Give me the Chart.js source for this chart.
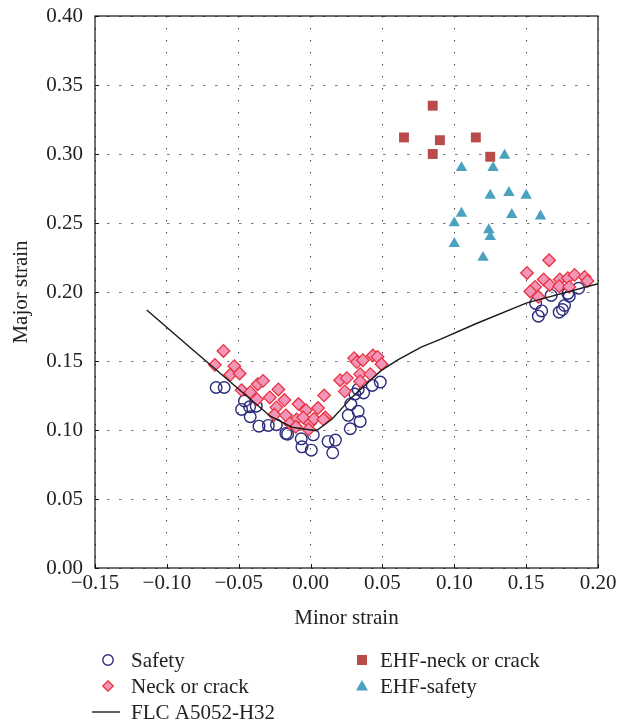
<!DOCTYPE html>
<html>
<head>
<meta charset="utf-8">
<title>Forming limit diagram</title>
<script src="https://cdn.jsdelivr.net/npm/chart.js@4.4.1/dist/chart.umd.min.js"></script>
<style>
  html, body { margin: 0; padding: 0; background: #ffffff; }
  #wrap { width: 628px; height: 725px; position: relative; }
</style>
</head>
<body>
<div id="wrap"><canvas id="flc" width="628" height="725"></canvas></div>
<script>
// Measured strains: [minor strain, major strain]
const safetyPoints = [
  [-0.0657, 0.1308], [-0.0601, 0.1308], [-0.0480, 0.1149], [-0.0424, 0.1168],
  [-0.0378, 0.1173], [-0.0460, 0.1210], [-0.0420, 0.1096], [-0.0359, 0.1028],
  [-0.0294, 0.1033], [-0.0238, 0.1038], [-0.0172, 0.0975], [-0.0160, 0.0970],
  [-0.0065, 0.0936], [-0.0060, 0.0878], [0.0005, 0.0854], [0.0019, 0.0965],
  [0.0122, 0.0917], [0.0173, 0.0927], [0.0154, 0.0835],
  [0.0331, 0.1294], [0.0369, 0.1269], [0.0429, 0.1323], [0.0485, 0.1347],
  [0.0308, 0.1260], [0.0280, 0.1188], [0.0331, 0.1135], [0.0262, 0.1106],
  [0.0345, 0.1062], [0.0276, 0.1009],
  [0.1566, 0.1917], [0.1608, 0.1863], [0.1585, 0.1825], [0.1674, 0.1975],
  [0.1753, 0.1873], [0.1767, 0.1902], [0.1800, 0.1970], [0.1790, 0.1989],
  [0.1865, 0.2027], [0.1730, 0.1854]
];

const neckPoints = [
  [-0.0606, 0.1573], [-0.0666, 0.1472], [-0.0531, 0.1463], [-0.0559, 0.1400],
  [-0.0494, 0.1410], [-0.0480, 0.1289], [-0.0420, 0.1274], [-0.0368, 0.1332],
  [-0.0331, 0.1356], [-0.0373, 0.1222], [-0.0284, 0.1236], [-0.0224, 0.1294],
  [-0.0182, 0.1217], [-0.0238, 0.1164], [-0.0252, 0.1110], [-0.0172, 0.1106],
  [-0.0084, 0.1188], [-0.0032, 0.1144], [-0.0098, 0.1077], [-0.0144, 0.1048],
  [-0.0102, 0.1023], [-0.0051, 0.1091], [-0.0004, 0.1048], [0.0024, 0.1081],
  [-0.0014, 0.1004], [0.0052, 0.1159], [0.0094, 0.1251], [0.0103, 0.1091],
  [0.0089, 0.1077], [0.0206, 0.1361], [0.0238, 0.1280], [0.0252, 0.1376],
  [0.0303, 0.1521], [0.0322, 0.1492], [0.0364, 0.1506], [0.0345, 0.1405],
  [0.0345, 0.1352], [0.0415, 0.1405], [0.0434, 0.1540], [0.0466, 0.1530],
  [0.0494, 0.1477],
  [0.1660, 0.2230], [0.1506, 0.2138], [0.1562, 0.2037], [0.1529, 0.2004],
  [0.1585, 0.1965], [0.1622, 0.2091], [0.1664, 0.2051], [0.1734, 0.2091],
  [0.1730, 0.2042], [0.1790, 0.2100], [0.1800, 0.2037], [0.1837, 0.2124],
  [0.1907, 0.2109], [0.1926, 0.2080]
];

const ehfNeckPoints = [
  [0.065, 0.312], [0.085, 0.335], [0.090, 0.310],
  [0.115, 0.312], [0.085, 0.300], [0.125, 0.298]
];

const ehfSafetyPoints = [
  [0.135, 0.299], [0.105, 0.290], [0.127, 0.290], [0.125, 0.270],
  [0.138, 0.272], [0.150, 0.270], [0.105, 0.257], [0.140, 0.256],
  [0.160, 0.255], [0.100, 0.250], [0.124, 0.245], [0.125, 0.240],
  [0.100, 0.235], [0.120, 0.225]
];

// Forming limit curve of A5052-H32
const flcMinor = [-0.114, -0.083, -0.055, -0.028, -0.013, 0.004, 0.015, 0.029,
                  0.049, 0.061, 0.077, 0.091, 0.115, 0.150, 0.200];
const flcMajor = [0.187, 0.159, 0.134, 0.110, 0.102, 0.0995, 0.108, 0.124,
                  0.143, 0.151, 0.160, 0.166, 0.177, 0.192, 0.206];

// Axis ticks
const xTicks = [-0.15, -0.10, -0.05, 0.00, 0.05, 0.10, 0.15, 0.20];
const yTicks = [0.00, 0.05, 0.10, 0.15, 0.20, 0.25, 0.30, 0.35, 0.40];

const seriesLabels = ['Safety', 'Neck or crack', 'FLC A5052-H32', 'EHF-neck or crack', 'EHF-safety'];

const toXY = pts => pts.map(p => ({ x: p[0], y: p[1] }));
const fmtTick = v => (v < 0 ? '\u2212' : '') + Math.abs(v).toFixed(2);

const SERIF = '"Liberation Serif", "DejaVu Serif", serif';
const TEXT_SIZE = 21;

const datasets = [
  {
    label: seriesLabels[0],
    data: toXY(safetyPoints),
    pointStyle: 'circle',
    pointRadius: 5.8,
    pointBorderWidth: 1.4,
    borderColor: '#2b2d7c',
    backgroundColor: 'rgba(0,0,0,0)',
    order: 4
  },
  {
    label: seriesLabels[1],
    data: toXY(neckPoints),
    pointStyle: 'rectRot',
    pointRadius: 6.3,
    pointBorderWidth: 1.3,
    borderColor: '#e8323f',
    backgroundColor: '#f395b8',
    order: 3
  },
  {
    label: seriesLabels[2],
    type: 'line',
    data: flcMinor.map((x, i) => ({ x: x, y: flcMajor[i] })),
    borderColor: '#1a1a1a',
    borderWidth: 1.4,
    pointRadius: 0,
    fill: false,
    tension: 0,
    order: 1
  },
  {
    label: seriesLabels[3],
    data: toXY(ehfNeckPoints),
    pointStyle: 'rect',
    pointRadius: 7,
    pointBorderWidth: 0,
    borderColor: '#b94b4b',
    backgroundColor: '#b94b4b',
    order: 2
  },
  {
    label: seriesLabels[4],
    data: toXY(ehfSafetyPoints),
    pointStyle: 'triangle',
    pointRadius: 6.6,
    pointBorderWidth: 0,
    borderColor: '#4aa2bf',
    backgroundColor: '#4aa2bf',
    order: 2
  }
];

// Frame around the plot area plus short inward tick marks
const framePlugin = {
  id: 'frame',
  afterDraw(chart) {
    const { ctx, chartArea: a, scales } = chart;
    ctx.save();
    ctx.strokeStyle = '#111';
    ctx.lineWidth = 1.2;
    ctx.strokeRect(a.left, a.top, a.right - a.left, a.bottom - a.top);
    ctx.lineWidth = 1;
    ctx.beginPath();
    xTicks.forEach(v => {
      const px = Math.round(scales.x.getPixelForValue(v)) + 0.5;
      ctx.moveTo(px, a.bottom);
      ctx.lineTo(px, a.bottom - 4);
    });
    yTicks.forEach(v => {
      const py = Math.round(scales.y.getPixelForValue(v)) + 0.5;
      ctx.moveTo(a.left, py);
      ctx.lineTo(a.left + 4, py);
    });
    ctx.stroke();
    ctx.restore();
  }
};

// Two-column legend under the axis title
const legendPlugin = {
  id: 'twoColLegend',
  afterDraw(chart) {
    const { ctx } = chart;
    const ds = chart.data.datasets;
    const slots = [
      { i: 0, x: 108, tx: 131, y: 660 },
      { i: 1, x: 108, tx: 131, y: 686 },
      { i: 2, x: 106, tx: 131, y: 712 },
      { i: 3, x: 362, tx: 380, y: 660 },
      { i: 4, x: 362, tx: 380, y: 686 }
    ];
    ctx.save();
    ctx.font = TEXT_SIZE + 'px ' + SERIF;
    ctx.textBaseline = 'middle';
    slots.forEach(s => {
      const d = ds[s.i];
      ctx.beginPath();
      if (d.type === 'line') {
        ctx.strokeStyle = d.borderColor;
        ctx.lineWidth = d.borderWidth;
        ctx.moveTo(s.x - 14, s.y);
        ctx.lineTo(s.x + 14, s.y);
        ctx.stroke();
      } else {
        const r = 5.2;
        ctx.fillStyle = d.backgroundColor;
        ctx.strokeStyle = d.borderColor;
        ctx.lineWidth = d.pointBorderWidth;
        if (d.pointStyle === 'circle') {
          ctx.arc(s.x, s.y, r, 0, Math.PI * 2);
        } else if (d.pointStyle === 'rectRot') {
          ctx.moveTo(s.x, s.y - r); ctx.lineTo(s.x + r, s.y);
          ctx.lineTo(s.x, s.y + r); ctx.lineTo(s.x - r, s.y);
          ctx.closePath();
        } else if (d.pointStyle === 'rect') {
          ctx.rect(s.x - 5, s.y - 5, 10, 10);
        } else if (d.pointStyle === 'triangle') {
          ctx.moveTo(s.x, s.y - 6); ctx.lineTo(s.x + 6, s.y + 4.5);
          ctx.lineTo(s.x - 6, s.y + 4.5);
          ctx.closePath();
        }
        ctx.fill();
        if (d.pointBorderWidth > 0) ctx.stroke();
      }
      ctx.fillStyle = '#222';
      ctx.fillText(d.label, s.tx, s.y + 1);
    });
    ctx.restore();
  }
};

new Chart(document.getElementById('flc'), {
  type: 'scatter',
  data: { datasets: datasets },
  plugins: [framePlugin, legendPlugin],
  options: {
    responsive: false,
    animation: false,
    layout: { padding: { top: 16, right: 30, bottom: 92, left: 0 } },
    plugins: { legend: { display: false }, tooltip: { enabled: false } },
    scales: {
      x: {
        type: 'linear',
        min: -0.15,
        max: 0.20,
        afterBuildTicks: s => { s.ticks = xTicks.map(v => ({ value: v })); },
        afterFit: s => { s.height = 65; s.paddingLeft = 0; s.paddingRight = 0; },
        ticks: {
          callback: v => fmtTick(v),
          font: { family: SERIF, size: TEXT_SIZE },
          color: '#222',
          padding: 3,
          maxRotation: 0
        },
        grid: { color: 'rgba(0,0,0,0.7)', lineWidth: 1, drawTicks: false },
        border: { display: false, dash: [1.5, 10.5] },
        title: {
          display: true,
          text: 'Minor strain',
          font: { family: SERIF, size: TEXT_SIZE },
          color: '#222',
          padding: { top: 0, bottom: 2 }
        }
      },
      y: {
        type: 'linear',
        min: 0,
        max: 0.40,
        afterBuildTicks: s => { s.ticks = yTicks.map(v => ({ value: v })); },
        afterFit: s => { s.width = 95; s.paddingTop = 0; s.paddingBottom = 0; },
        ticks: {
          callback: v => fmtTick(v),
          font: { family: SERIF, size: TEXT_SIZE },
          color: '#222',
          padding: 12
        },
        grid: { color: 'rgba(0,0,0,0.55)', lineWidth: 1, drawTicks: false },
        border: { display: false, dash: [2.5, 9.5] },
        title: {
          display: true,
          text: 'Major strain',
          font: { family: SERIF, size: TEXT_SIZE },
          color: '#222',
          padding: { top: 9, bottom: 0 }
        }
      }
    }
  }
});
</script>
</body>
</html>
